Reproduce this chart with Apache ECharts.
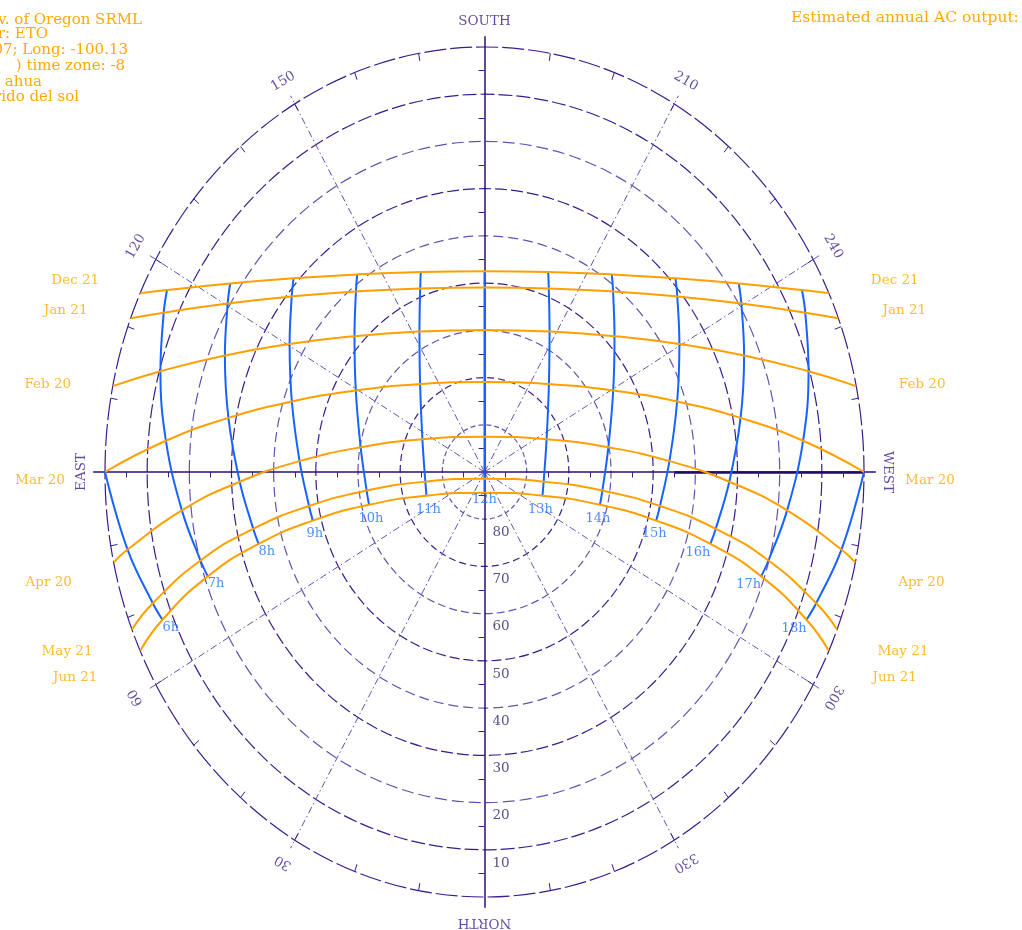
<!DOCTYPE html>
<html><head><meta charset="utf-8">
<script src="https://cdn.jsdelivr.net/npm/echarts@6/dist/echarts.min.js"></script>
<style>html,body{margin:0;padding:0;background:#fff}#c{width:1022px;height:930px}</style>
</head><body><div id="c"></div>
<script>
// ---------------- DATA ----------------
const dates = ['Dec 21','Jan 21','Feb 20','Mar 20','Apr 20','May 21','Jun 21'];
const hours = [6,7,8,9,10,11,12,13,14,15,16,17,18];
const hourLabels = ['6h','7h','8h','9h','10h','11h','12h','13h','14h','15h','16h','17h','18h'];
// sunrise / sunset azimuths (deg from north, clockwise), altitude 0
const riseAz = [114.89, 111.20, 101.65, 90.00, 77.72, 68.25, 65.11];
const setAz  = [245.11, 248.80, 258.35, 270.00, 282.28, 291.75, 294.89];
// azimuth / altitude of the sun at each hour 6h..18h (null = below horizon)
const azDec21  = [null,117.10,123.50,132.18,144.18,160.36,180,199.64,215.82,227.82,236.50,242.90,null];
const altDec21 = [null,5.42,17.67,28.89,38.39,45.04,47.49,45.04,38.39,28.89,17.67,5.42,null];
const azJan21  = [null,113.92,120.37,129.11,141.43,158.58,180,201.42,218.57,230.89,239.63,246.08,null];
const altJan21 = [null,6.78,19.41,31.08,41.10,48.25,50.93,48.25,41.10,31.08,19.41,6.78,null];
const azFeb20  = [null,105.52,111.84,120.39,133.02,152.59,180,207.41,226.98,239.61,248.16,254.48,null];
const altFeb20 = [null,10.24,23.67,36.42,47.83,56.49,59.93,56.49,47.83,36.42,23.67,10.24,null];
const azMar20  = [90,95.00,100.68,108.09,119.50,140.65,180,219.35,240.50,251.91,259.32,265.00,270];
const altMar20 = [0,14.16,28.20,41.94,54.93,65.91,70.93,65.91,54.93,41.94,28.20,14.16,0];
const azApr20  = [79.02,83.54,87.97,93.00,100.09,115.16,180,244.84,259.91,267.00,272.03,276.46,280.98];
const altApr20 = [3.77,17.78,31.91,46.08,60.17,73.73,82.53,73.73,60.17,46.08,31.91,17.78,3.77];
const azMay21  = [70.54,74.45,77.63,80.18,81.98,81.70,0,278.30,278.02,279.82,282.37,285.55,289.46];
const altMay21 = [6.57,20.09,33.85,47.77,61.77,75.82,88.57,75.82,61.77,47.77,33.85,20.09,6.57];
const azJun21  = [67.72,71.39,74.12,75.81,75.77,70.00,0,290.00,284.23,284.19,285.88,288.61,292.28];
const altJun21 = [7.47,20.76,34.30,48.00,61.75,75.36,85.63,75.36,61.75,48.00,34.30,20.76,7.47];
// grid
const ringAlts = [0,10,20,30,40,50,60,70,80];
const ringLabels = ['10','20','30','40','50','60','70','80'];
const ringLabelAlts = [10,20,30,40,50,60,70,80];
const azLines = [30,60,120,150,210,240,300,330];
const azLabels = ['30','60','120','150','210','240','300','330'];
const cardinalAz = [180,90,0,270];
const cardinalLabels = ['SOUTH','EAST','NORTH','WEST'];
const infoLeft = ['Univ. of Oregon SRML','Creator: ETO','Lat: 19.07; Long: -100.13',') time zone: -8','ahua','Recorrido del sol'];
const infoRight = 'Estimated annual AC output:';

// ---------------- LAYOUT / STYLE ----------------
const azTable = [azDec21, azJan21, azFeb20, azMar20, azApr20, azMay21, azJun21];
const altTable = [altDec21, altJan21, altFeb20, altMar20, altApr20, altMay21, altJun21];
const dateLabelDy = [-13,-8,-2,8,20,22,27];
const ORANGE = '#ffa000', ORANGE_T = '#ffaa00', BLUE = '#1763ff', BLUE_T = '#1f70ff';
const INDIGO = '#3a1c8c', LAV = '#6552b0', AXIS = '#2a0d7a';
const FONT = '"DejaVu Serif", "Liberation Serif", serif';
const D2R = Math.PI / 180;
function polar(az, r) { return [-r * Math.sin(az * D2R), -r * Math.cos(az * D2R)]; }
function toXY(az, alt) { return polar(az, 90 - alt); }

const series = [];
const base = {silent: true, animation: false, clip: false};

// radial azimuth lines
series.push(Object.assign({type: 'lines', coordinateSystem: 'cartesian2d', z: 1,
  lineStyle: {color: LAV, width: 1, type: [7, 3, 1.5, 3], opacity: 1},
  data: azLines.map(az => ({coords: [[0, 0], polar(az, 92)]}))}, base));
// main axes
series.push(Object.assign({type: 'lines', coordinateSystem: 'cartesian2d', z: 2,
  lineStyle: {color: AXIS, width: 1.5, opacity: 1},
  data: [{coords: [[-92.8, 0], [92.8, 0]]}, {coords: [[0, 92.3], [0, -92.3]]}]}, base));
series.push(Object.assign({type: 'lines', coordinateSystem: 'cartesian2d', z: 2,
  lineStyle: {color: '#220a66', width: 2.6, opacity: 1},
  data: [{coords: [[45, 0], [90, 0]]}]}, base));
// ticks
const ticks = [];
for (let r = 5; r < 90; r += 10) {
  ticks.push({coords: [[r, 0], [r, -1.15]]}, {coords: [[-r, 0], [-r, -1.15]]});
  ticks.push({coords: [[0, r], [-1.4, r]]}, {coords: [[0, -r], [-1.4, -r]]});
}
for (let az = 10; az < 360; az += 10) {
  if (az % 90 === 0) continue;
  ticks.push({coords: [polar(az, 90), polar(az, 88.4)]});
}
series.push(Object.assign({type: 'lines', coordinateSystem: 'cartesian2d', z: 2,
  lineStyle: {color: INDIGO, width: 1, opacity: 1}, data: ticks}, base));

// hour lines
const hourEnds = [];
hours.forEach((h, j) => {
  const pts = [];
  dates.forEach((d, i) => {
    if (altTable[i][j] !== null) pts.push(toXY(azTable[i][j], altTable[i][j]));
  });
  hourEnds.push(pts[pts.length - 1]);
  series.push(Object.assign({type: 'line', data: pts, showSymbol: false, symbol: 'none', smooth: 0.4, z: 3,
    lineStyle: {color: BLUE, width: 2}}, base));
});
// date lines
dates.forEach((d, i) => {
  const pts = [toXY(riseAz[i], 0)];
  hours.forEach((h, j) => {
    const a = altTable[i][j];
    if (a !== null && a > 0) pts.push(toXY(azTable[i][j], a));
  });
  pts.push(toXY(setAz[i], 0));
  series.push(Object.assign({type: 'line', data: pts, showSymbol: false, symbol: 'none', smooth: 0.5, z: 4,
    lineStyle: {color: ORANGE, width: 2}}, base));
});

const labelSeries = (data, color, size, z) => Object.assign({type: 'scatter', symbolSize: 1, z: z || 6,
  itemStyle: {color: 'rgba(0,0,0,0)'},
  label: {show: true, position: 'inside', formatter: '{b}', color: color, fontFamily: FONT, fontSize: size},
  data: data}, base);

// hour labels
series.push(labelSeries(hours.map((h, j) => {
  let lab;
  if (h <= 8) lab = {align: 'left', verticalAlign: 'top', offset: [0, 1]};
  else if (h >= 16) lab = {align: 'right', verticalAlign: 'top', offset: [0, 2]};
  else if (h === 12) lab = {align: 'center', verticalAlign: 'top', offset: [0, 0]};
  else lab = {align: 'center', verticalAlign: 'top', offset: [h < 12 ? 2 : -2, 7]};
  return {value: hourEnds[j], name: hourLabels[j], label: lab};
}), BLUE_T, 13));
// date labels
const dl = [];
dates.forEach((d, i) => {
  dl.push({value: toXY(riseAz[i], 0), name: d, label: {align: 'center', verticalAlign: 'middle', offset: [-65, dateLabelDy[i]]}});
  dl.push({value: toXY(setAz[i], 0), name: d, label: {align: 'center', verticalAlign: 'middle', offset: [66, dateLabelDy[i]]}});
});
series.push(labelSeries(dl, ORANGE_T, 13.5));
// azimuth + cardinal labels
const al = [];
azLines.forEach((az, k) => al.push({value: polar(az, 95.5), name: azLabels[k],
  label: {align: 'center', verticalAlign: 'middle', rotate: 180 - az}}));
cardinalAz.forEach((az, k) => al.push({value: polar(az, 95.5), name: cardinalLabels[k],
  label: {align: 'center', verticalAlign: 'middle', rotate: 180 - az}}));
series.push(labelSeries(al, INDIGO, 13.5));
// altitude ring labels
series.push(labelSeries(ringLabelAlts.map((a, k) => ({value: [0, -(90 - a) - 2.8], name: ringLabels[k],
  label: {align: 'left', verticalAlign: 'middle', offset: [8, 0]}})), '#32206a', 13.5));

const option = {
  animation: false,
  backgroundColor: '#ffffff',
  grid: {left: 105, top: 47, width: 759, height: 850, outerBoundsMode: 'none'},
  xAxis: {type: 'value', min: -90, max: 90, show: false},
  yAxis: {type: 'value', min: -90, max: 90, show: false},
  series: series
};

const chart = echarts.init(document.getElementById('c'));
chart.setOption(option);

// altitude rings (ellipses on the grid scale)
const c0 = chart.convertToPixel({gridIndex: 0}, [0, 0]);
const c9 = chart.convertToPixel({gridIndex: 0}, [90, 90]);
const kx = (c9[0] - c0[0]) / 90, ky = (c0[1] - c9[1]) / 90;
const ringStyle = [
  {stroke: INDIGO, dash: [22, 4]}, {stroke: INDIGO, dash: [14, 4]}, {stroke: LAV, dash: [12, 5]},
  {stroke: INDIGO, dash: [12, 4]}, {stroke: LAV, dash: [10, 5]}, {stroke: INDIGO, dash: [10, 4]},
  {stroke: LAV, dash: [8, 4]}, {stroke: INDIGO, dash: [7, 4]}, {stroke: LAV, dash: [5, 3]}
];
const graphic = ringAlts.map((a, k) => ({
  type: 'ellipse', z: 0, silent: true,
  shape: {cx: c0[0], cy: c0[1], rx: (90 - a) * kx, ry: (90 - a) * ky},
  style: {fill: 'none', stroke: ringStyle[k].stroke, lineWidth: 1.2, lineDash: ringStyle[k].dash}
}));
const infoRightEdge = [142, 48, 128, 125, 42, 79];
const infoY = [20, 34, 50, 66, 82, 97];
infoLeft.forEach((t, k) => graphic.push({type: 'text', z: 10, silent: true, x: infoRightEdge[k], y: infoY[k],
  style: {text: t, fill: ORANGE_T, font: '15px ' + FONT, textAlign: 'right', textVerticalAlign: 'middle'}}));
graphic.push({type: 'text', z: 10, silent: true, x: 791, y: 18,
  style: {text: infoRight, fill: ORANGE_T, font: '15.5px ' + FONT, textAlign: 'left', textVerticalAlign: 'middle'}});
chart.setOption({graphic: graphic});
</script></body></html>
